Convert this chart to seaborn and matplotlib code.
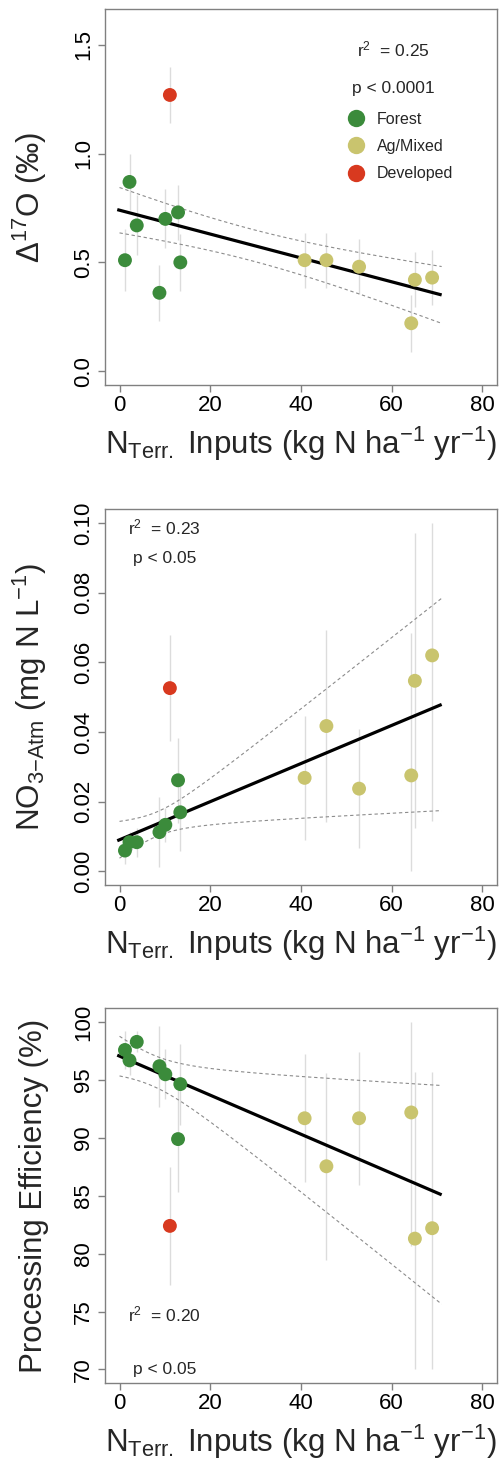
import numpy as np
import pandas as pd
import matplotlib
matplotlib.use("Agg")
import matplotlib.pyplot as plt
from matplotlib.lines import Line2D
import seaborn as sns

# site-level means
n_inputs = [1.2, 2.2, 3.8, 8.8, 10.1, 12.9, 13.4, 11.1, 40.8, 45.6, 52.8, 64.3, 65.1, 68.9]
landuse = ["Forest"] * 7 + ["Developed"] + ["Ag/Mixed"] * 6

d17o = [0.51, 0.87, 0.67, 0.36, 0.70, 0.73, 0.50, 1.27, 0.51, 0.51, 0.48, 0.22, 0.42, 0.43]
d17o_err = [0.142, 0.13, 0.138, 0.128, 0.136, 0.125, 0.13, 0.129, 0.127, 0.127, 0.127, 0.13, 0.127, 0.128]

no3_atm = [0.0059, 0.0083, 0.0083, 0.0112, 0.0133, 0.0261, 0.0169, 0.0526,
           0.0268, 0.0417, 0.0237, 0.0275, 0.0547, 0.0620]
no3_atm_err = [0.004, 0.003, 0.0042, 0.010, 0.0048, 0.0123, 0.011, 0.0152,
               0.0178, 0.0276, 0.0171, 0.041, 0.0424, 0.0476]

efficiency = [97.6, 96.7, 98.3, 96.2, 95.5, 89.9, 94.65, 82.4, 91.7, 87.55, 91.7, 92.2, 81.3, 82.2]
efficiency_err = [1.65, 1.3, 0.9, 3.5, 2.15, 4.55, 3.5, 5.1, 5.55, 8.1, 5.75, 11.5, 14.4, 13.5]

# regression fits: intercept, slope, CI half-width min, x at min, growth
fit_d17o = (0.740, -0.00549, 0.0725, 29.0, 6.7e-6)
fit_no3 = (0.0090, 0.000548, 0.0035, 8.2, 2.33e-7)
fit_eff = (97.07, -0.1688, 1.35, 7.2, 0.02147)

stats_d17o = ["r$^2$  = 0.25", "p < 0.0001"]
stats_no3 = ["r$^2$  = 0.23", "p < 0.05"]
stats_eff = ["r$^2$  = 0.20", "p < 0.05"]

palette = {"Forest": "#3b8b3b", "Ag/Mixed": "#c9c46e", "Developed": "#d8391f"}

df = pd.DataFrame({"x": n_inputs, "landuse": landuse,
                   "d17o": d17o, "d17o_err": d17o_err,
                   "no3": no3_atm, "no3_err": no3_atm_err,
                   "eff": efficiency, "eff_err": efficiency_err})

sns.set_style("white")
plt.rcParams["font.family"] = ["Liberation Sans", "DejaVu Sans"]
plt.rcParams["mathtext.fontset"] = "custom"
plt.rcParams["mathtext.rm"] = "Liberation Sans"
plt.rcParams["mathtext.it"] = "Liberation Sans:italic"
plt.rcParams["mathtext.default"] = "regular"

fig = plt.figure(figsize=(5.02, 14.61), dpi=100)
W, H = 502, 1461


def make_axes(top, bottom, left=105, right=497):
    return fig.add_axes([left / W, (H - bottom) / H, (right - left) / W, (bottom - top) / H])


xlabel = r"N$_{\mathregular{Terr.}}$ Inputs (kg N ha$^{-1}$ yr$^{-1}$)"


def panel(ax, col, fit, ylim, yticks, ylab, stats, stat_pos, clip):
    lo = df[col] - np.clip(df[col] - df[col + "_err"], clip[0], clip[1])
    hi = np.clip(df[col] + df[col + "_err"], clip[0], clip[1]) - df[col]
    ax.errorbar(df["x"], df[col], yerr=[lo, hi], fmt="none", ecolor="#dcdcdc",
                elinewidth=1.0, capsize=0, zorder=1)
    b0, b1, hmin, xm, g = fit
    xs = np.linspace(0, 71, 200)
    yc = b0 + b1 * xs
    hw = np.sqrt(hmin ** 2 + g * (xs - xm) ** 2)
    ax.plot(xs, yc + hw, color="#8c8c8c", lw=0.8, ls=(0, (3, 2.5)), zorder=2)
    ax.plot(xs, yc - hw, color="#8c8c8c", lw=0.8, ls=(0, (3, 2.5)), zorder=2)
    xl = np.array([-0.5, 71])
    ax.plot(xl, b0 + b1 * xl, color="black", lw=2.3, solid_capstyle="butt", zorder=2)
    sns.scatterplot(data=df, x="x", y=col, hue="landuse", palette=palette,
                    s=100, linewidth=0, legend=False, ax=ax, zorder=3)
    ax.set_xlim(-3.2, 83.2)
    ax.set_xticks([0, 20, 40, 60, 80])
    ax.set_ylim(*ylim)
    ax.set_yticks(yticks)
    for s in ax.spines.values():
        s.set_color("#808080")
        s.set_linewidth(1.0)
    ax.tick_params(axis="both", direction="out", length=5, width=1.0, color="#808080",
                   labelsize=16, labelcolor="black", bottom=True, left=True)
    ax.tick_params(axis="x", pad=2)
    ax.tick_params(axis="y", pad=3)
    plt.setp(ax.get_yticklabels(), rotation=90, va="center")
    ax.set_xlabel(xlabel, fontsize=22.5)
    ax.set_ylabel(ylab, fontsize=22.5)
    ax.xaxis.set_label_coords(0.5, -0.105)
    ax.yaxis.set_label_coords(-0.142, 0.5)
    for txt, (tx, ty) in zip(stats, stat_pos):
        ax.text(tx, ty, txt, transform=ax.transAxes, ha="center", va="center", fontsize=12.5)


ax1 = make_axes(9.3, 385)
panel(ax1, "d17o", fit_d17o, (-0.064, 1.664), [0.0, 0.5, 1.0, 1.5],
      "Δ$^{17}$O (‰)", stats_d17o, [(0.735, 0.894), (0.735, 0.790)], (-10, 10))
handles = [Line2D([], [], marker="o", ls="none", markersize=12.5, markerfacecolor=palette[k],
                  markeredgewidth=0) for k in palette]
ax1.legend(handles, list(palette), loc="upper left", bbox_to_anchor=(0.62, 0.727),
           frameon=False, fontsize=11.5, handlelength=1.0, handletextpad=0.8,
           labelspacing=0.76, borderpad=0, borderaxespad=0)

ax2 = make_axes(509.3, 885)
panel(ax2, "no3", fit_no3, (-0.004, 0.104), [0.00, 0.02, 0.04, 0.06, 0.08, 0.10],
      r"NO$_{\mathregular{3{-}Atm}}$ (mg N L$^{-1}$)", stats_no3,
      [(0.151, 0.953), (0.151, 0.870)], (0, 0.1))
ax2.set_yticklabels(["0.00", "0.02", "0.04", "0.06", "0.08", "0.10"], rotation=90, va="center")

ax3 = make_axes(1008.3, 1383.3)
panel(ax3, "eff", fit_eff, (68.8, 101.2), [70, 75, 80, 85, 90, 95, 100],
      "Processing Efficiency (%)", stats_eff, [(0.151, 0.184), (0.151, 0.038)], (70, 100))

fig.savefig("out.png", dpi=100)
